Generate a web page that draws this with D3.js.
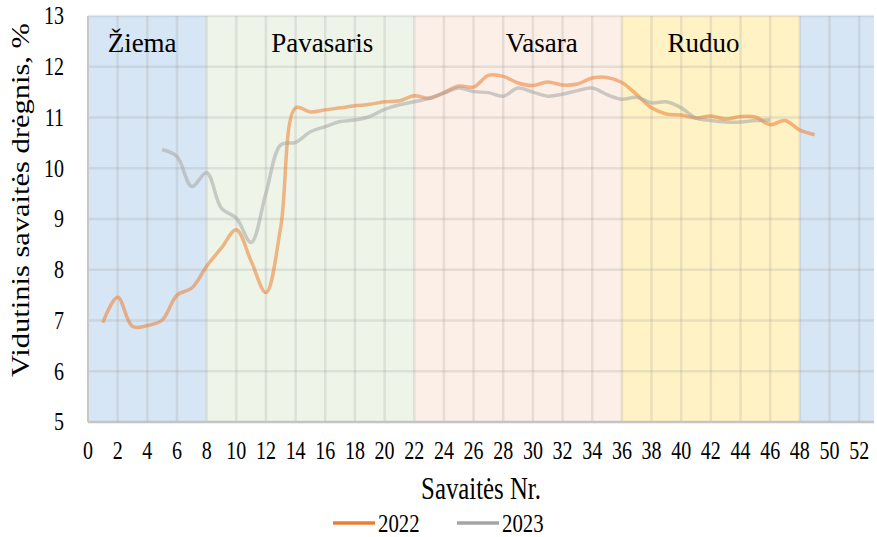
<!DOCTYPE html>
<html lang="lt">
<head>
<meta charset="UTF-8">
<title>Vidutinis savaitės drėgnis</title>
<script src="https://cdn.jsdelivr.net/npm/d3@7"></script>
<style>
  body { margin: 0; background: #fff; }
  text { font-family: "Liberation Serif", "Times New Roman", serif; fill: #000; }
</style>
</head>
<body>
<svg id="main" width="877" height="537"></svg>
<script>
// weeks and weekly mean humidity, %
const weeks2022 = d3.range(1, 50);
const values2022 = [6.96, 7.46, 6.88, 6.9, 7.01, 7.5, 7.64, 8.07, 8.43, 8.79,
                    8.17, 7.55, 8.85, 11.19, 11.11, 11.15, 11.19, 11.23, 11.26, 11.31,
                    11.33, 11.43, 11.38, 11.49, 11.62, 11.6, 11.83, 11.81, 11.68, 11.63,
                    11.7, 11.64, 11.66, 11.78, 11.79, 11.69, 11.45, 11.19, 11.07, 11.05,
                    10.99, 11.03, 10.97, 11.02, 11.01, 10.86, 10.94, 10.75, 10.66];
const weeks2023 = d3.range(5, 47);
const values2023 = [10.37, 10.23, 9.64, 9.91, 9.21, 9.02, 8.54, 9.51, 10.46, 10.51,
                    10.72, 10.82, 10.92, 10.95, 11.02, 11.16, 11.25, 11.31, 11.38, 11.48,
                    11.58, 11.51, 11.49, 11.42, 11.58, 11.5, 11.42, 11.46, 11.53, 11.58,
                    11.45, 11.36, 11.4, 11.29, 11.31, 11.19, 10.99, 10.94, 10.91, 10.91,
                    10.94, 10.95];

// seasons: start week, end week, label, label anchor week
const seasonNames = ['Žiema', 'Pavasaris', 'Vasara', 'Ruduo', ''];
const seasonStart = [0, 8, 22, 36, 48];
const seasonEnd = [8, 22, 36, 48, 53];
const seasonLabelWeek = [3.65, 15.8, 30.6, 41.5, null];
const seasonColors = ['#d7e6f4', '#eef5e8', '#fcefe7', '#fff2c4', '#d7e6f4'];

const xTicks = d3.range(0, 53, 2);
const yTicks = d3.range(5, 14, 1);

const seriesNames = ['2022', '2023'];
const seriesColors = ['#ed7d31', '#a5a5a5'];

let svg = d3.select('svg#main');
let m = {left: 88, right: 3, top: 16, bottom: 115};
let W = 877, H = 537;

let x = d3.scaleLinear().domain([0, 53]).range([m.left, W - m.right]);
let y = d3.scaleLinear().domain([5, 13]).range([H - m.bottom, m.top]);

// season bands
svg.append('g').selectAll('rect')
    .data(seasonNames)
    .enter().append('rect')
    .attr('x', (d, i) => x(seasonStart[i]))
    .attr('width', (d, i) => x(seasonEnd[i]) - x(seasonStart[i]))
    .attr('y', y(13))
    .attr('height', y(5) - y(13))
    .attr('fill', (d, i) => seasonColors[i]);

// grid
let grid = svg.append('g').attr('stroke', '#9a9a9a').attr('stroke-opacity', 0.22).attr('stroke-width', 2.5);
grid.selectAll('line.v')
    .data(xTicks.filter(d => d > 0))
    .enter().append('line')
    .attr('x1', d => x(d)).attr('x2', d => x(d))
    .attr('y1', y(13)).attr('y2', y(5));
grid.selectAll('line.h')
    .data(yTicks.filter(d => d > 5))
    .enter().append('line')
    .attr('x1', x(0)).attr('x2', x(53))
    .attr('y1', d => y(d)).attr('y2', d => y(d));

// axis lines
svg.append('line').attr('x1', x(0)).attr('x2', x(53)).attr('y1', y(5)).attr('y2', y(5))
    .attr('stroke', '#c4c4c4').attr('stroke-width', 2.5);
svg.append('line').attr('x1', x(0)).attr('x2', x(0)).attr('y1', y(13)).attr('y2', y(5))
    .attr('stroke', '#c8c8c8').attr('stroke-width', 2);

// season labels
svg.append('g').selectAll('text')
    .data(seasonNames.filter(d => d))
    .enter().append('text')
    .attr('x', (d, i) => x(seasonLabelWeek[i]))
    .attr('y', 52)
    .attr('text-anchor', 'middle')
    .attr('font-size', 27)
    .text(d => d);

// lines
let line = d3.line()
    .x(d => x(d[0]))
    .y(d => y(d[1]))
    .curve(d3.curveCatmullRom.alpha(0.5));

let series = [
    d3.zip(weeks2022, values2022),
    d3.zip(weeks2023, values2023)
];
svg.append('g').selectAll('path')
    .data(series)
    .enter().append('path')
    .attr('d', line)
    .attr('fill', 'none')
    .attr('stroke', (d, i) => seriesColors[i])
    .attr('stroke-opacity', 0.55)
    .attr('stroke-width', 3.5)
    .attr('stroke-linejoin', 'round');

// tick labels (narrow serif)
let sx = 0.8;
svg.append('g').selectAll('text')
    .data(yTicks)
    .enter().append('text')
    .attr('transform', d => `translate(64,${y(d)}) scale(${sx},1)`)
    .attr('text-anchor', 'end')
    .attr('dominant-baseline', 'central')
    .attr('font-size', 25)
    .text(d => d);

svg.append('g').selectAll('text')
    .data(xTicks)
    .enter().append('text')
    .attr('transform', d => `translate(${x(d)},451) scale(${sx},1)`)
    .attr('text-anchor', 'middle')
    .attr('dominant-baseline', 'central')
    .attr('font-size', 25)
    .text(d => d);

// axis titles
svg.append('text')
    .attr('transform', `translate(${(x(0) + x(53)) / 2},489) scale(${sx},1)`)
    .attr('text-anchor', 'middle')
    .attr('dominant-baseline', 'central')
    .attr('font-size', 31)
    .text('Savaitės Nr.');

svg.append('text')
    .attr('transform', `translate(21,200) scale(${sx},1) rotate(-90)`)
    .attr('text-anchor', 'middle')
    .attr('dominant-baseline', 'central')
    .attr('font-size', 30.5)
    .text('Vidutinis savaitės drėgnis, %');

// legend
let legend = svg.append('g').selectAll('g')
    .data(seriesNames)
    .enter().append('g')
    .attr('transform', (d, i) => `translate(${333 + i * 124},523)`);
legend.append('line')
    .attr('x1', 0).attr('x2', 42)
    .attr('stroke', (d, i) => seriesColors[i])
    .attr('stroke-width', 3.5);
legend.append('text')
    .attr('transform', `translate(45,0) scale(${sx},1)`)
    .attr('dominant-baseline', 'central')
    .attr('font-size', 26)
    .text(d => d);
</script>
</body>
</html>
